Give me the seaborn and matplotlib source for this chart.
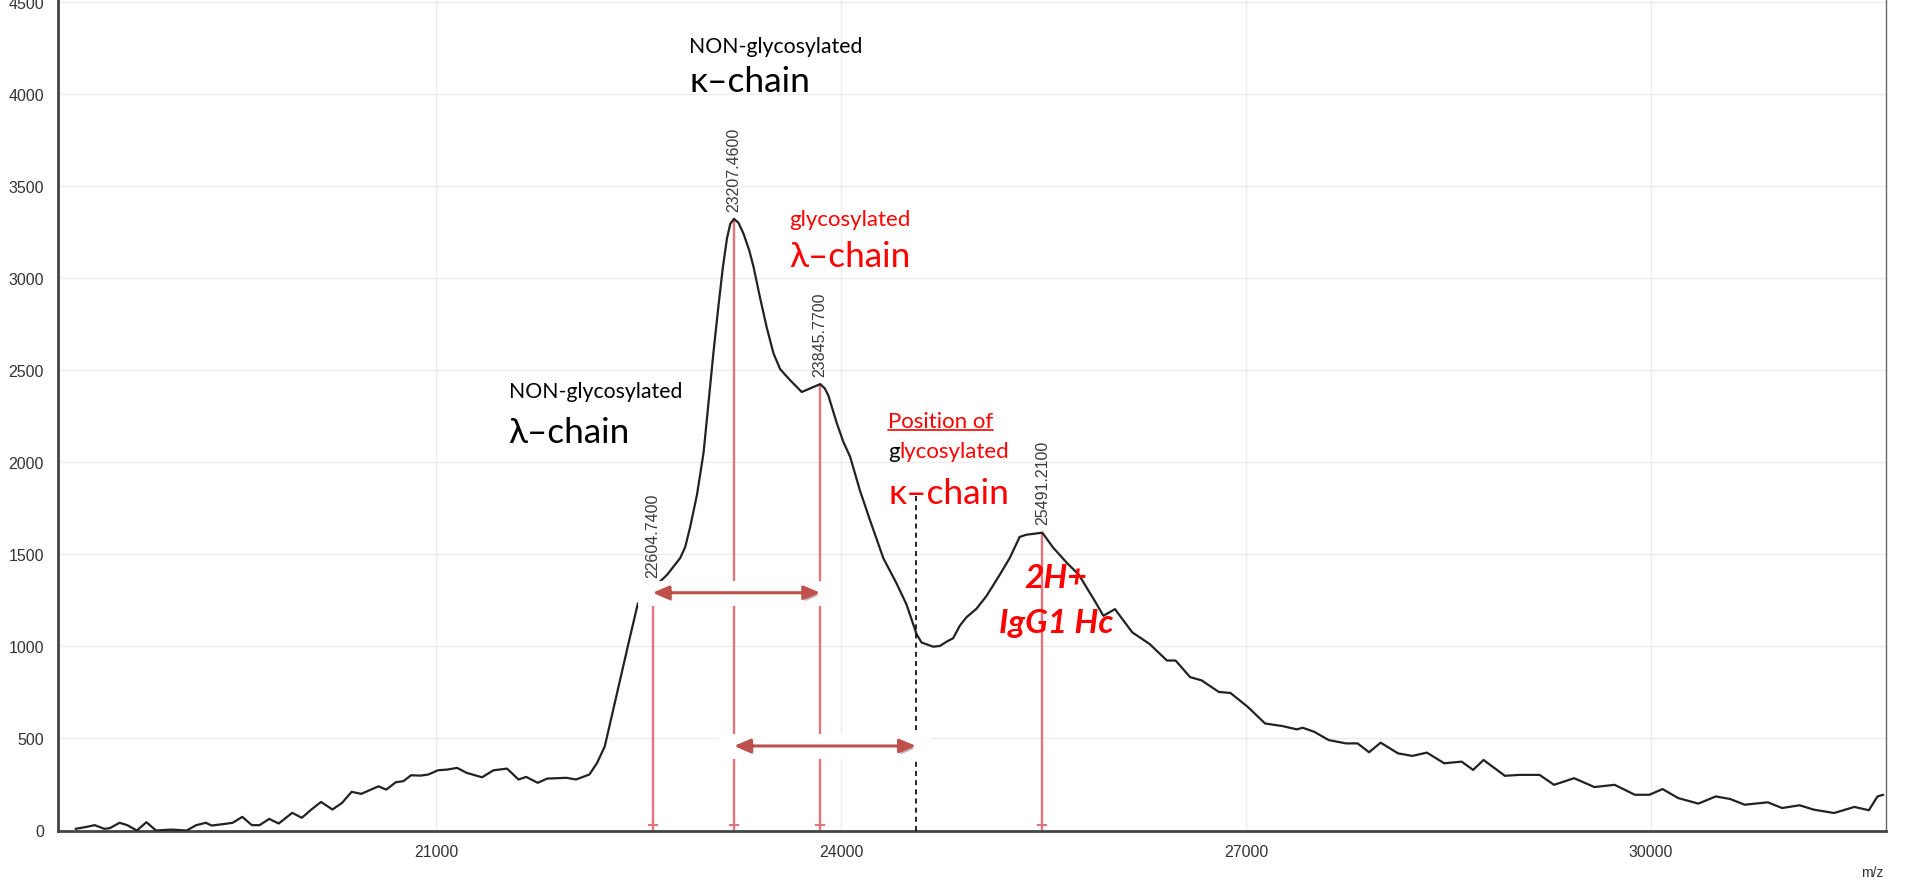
import numpy as np
import pandas as pd
import seaborn as sns
import matplotlib.pyplot as plt
import matplotlib.patheffects as pe
from matplotlib.ticker import MultipleLocator
from matplotlib.patches import Rectangle, FancyArrowPatch
from matplotlib.lines import Line2D

# spectrum (m/z, intensity)
mz = [18330, 18400, 18472, 18543, 18585, 18656, 18713, 18784, 18855, 18926,
      19040, 19153, 19224, 19295, 19338, 19438, 19494, 19565, 19636, 19693,
      19764, 19835, 19935, 20006, 20077, 20148, 20233, 20304, 20375, 20446,
      20517, 20574, 20631, 20702, 20759, 20815, 20886, 20943, 21014, 21085,
      21156, 21227, 21341, 21426, 21526, 21611, 21668, 21753, 21824, 21966,
      22037, 22136, 22193, 22250, 22307, 22364, 22430, 22495, 22560, 22635,
      22711, 22809, 22846, 22883, 22933, 22982, 23019, 23056, 23093, 23125,
      23155, 23180, 23207, 23240, 23278, 23320, 23352, 23401, 23450, 23500,
      23549, 23623, 23709, 23783, 23846, 23880, 23906, 23968, 24017, 24067,
      24140, 24214, 24313, 24411, 24485, 24559, 24596, 24682, 24732, 24781,
      24830, 24880, 24929, 25003, 25077, 25175, 25249, 25323, 25372, 25491,
      25570, 25669, 25760, 25879, 25943, 26029, 26093, 26157, 26285, 26414,
      26478, 26585, 26671, 26799, 26884, 27013, 27141, 27270, 27377, 27419,
      27505, 27612, 27740, 27826, 27911, 27997, 28125, 28232, 28339, 28468,
      28596, 28682, 28759, 28917, 29024, 29174, 29281, 29430, 29580, 29730,
      29880, 29987, 30085, 30201, 30350, 30479, 30586, 30693, 30864, 30971,
      31100, 31206, 31356, 31506, 31613, 31677, 31720]
intensity = [9, 18, 29, 9, 13, 42, 29, 0, 45, 0,
             5, 0, 29, 42, 27, 36, 42, 74, 29, 29,
             63, 38, 96, 69, 114, 155, 114, 150, 210, 199,
             222, 240, 222, 262, 268, 300, 298, 304, 327, 331,
             340, 313, 289, 327, 336, 277, 291, 259, 282, 286,
             277, 304, 367, 457, 638, 820, 1030, 1232, 1290, 1335,
             1388, 1480, 1540, 1650, 1823, 2053, 2328, 2603, 2855, 3060,
             3215, 3295, 3321, 3300, 3240, 3150, 3060, 2890, 2730, 2590,
             2505, 2445, 2381, 2404, 2424, 2400, 2362, 2213, 2110, 2030,
             1846, 1686, 1479, 1342, 1227, 1067, 1021, 998, 1002, 1025,
             1044, 1112, 1158, 1204, 1273, 1388, 1479, 1594, 1606, 1617,
             1537, 1456, 1390, 1247, 1166, 1202, 1139, 1076, 1013, 923,
             923, 833, 815, 752, 747, 671, 581, 567, 549, 558,
             536, 491, 473, 473, 425, 477, 419, 405, 423, 365,
             374, 329, 383, 297, 302, 302, 248, 284, 236, 248,
             194, 194, 225, 176, 146, 185, 171, 140, 153, 122,
             137, 113, 95, 128, 110, 185, 194]

peak_mz = [22604.74, 23207.46, 23845.77, 25491.21]
peak_int = [1330, 3321, 2424, 1617]

kappa_glyco_mz = 24555
kappa_glyco_top = 1823

# double arrows: start, end, level
arrow_start = [22604.74, 23207.46]
arrow_end = [23845.77, 24555]
arrow_level = [1291, 459]

spectrum = pd.DataFrame({'mz': mz, 'intensity': intensity})

sns.set_style('white')
plt.rcParams['font.family'] = ['Liberation Sans', 'DejaVu Sans']
label_font = ['Lato', 'DejaVu Sans']

fig = plt.figure(figsize=(19.06, 8.87), dpi=100)
ax = fig.add_axes([58 / 1906, 55.5 / 887, 1828 / 1906, 831.5 / 887])

sns.lineplot(data=spectrum, x='mz', y='intensity', color='#222222', lw=1.6,
             ax=ax, zorder=3)

# peak stems with small caps at the base
ax.vlines(peak_mz, 0, peak_int, color='#e5737e', lw=1.7, zorder=2)
ax.scatter(peak_mz, [28] * len(peak_mz), marker='_', s=60, color='#e5737e',
           linewidths=1.5, zorder=2)
for m, h in zip(peak_mz, peak_int):
    ax.annotate(f'{m:.4f}', xy=(m, h), xytext=(0, 6), textcoords='offset points',
                rotation=90, ha='center', va='bottom', fontsize=11.5,
                color='#3a3a3a', zorder=7)

# dashed marker for glycosylated kappa position
ax.vlines(kappa_glyco_mz, 0, kappa_glyco_top, color='black', lw=1.2,
          linestyles=(0, (3, 2.5)), zorder=3)

# arrows with white backing boxes
for x0, x1, y in zip(arrow_start, arrow_end, arrow_level):
    ax.add_patch(Rectangle((x0 - 110, y - 70), (x1 - x0) + 220, 135,
                           facecolor='white', edgecolor='none', zorder=4))
    arr = FancyArrowPatch((x0, y), (x1, y),
                          arrowstyle='<|-|>,head_length=0.75,head_width=0.32',
                          mutation_scale=13, lw=2.2, color='#c0504d',
                          shrinkA=0, shrinkB=0, zorder=6,
                          path_effects=[pe.withSimplePatchShadow(offset=(1.5, -2),
                                                                 alpha=0.3)])
    ax.add_patch(arr)


def note(x, y, s, color, size, **kw):
    return ax.text(x, y, s, color=color, fontsize=size, family=label_font,
                   va='baseline', zorder=7, **kw)


note(22874, 4227, 'NON-glycosylated', 'black', 15.3)
note(22874, 4015, 'κ–chain', 'black', 25.5)
note(23615, 3288, 'glycosylated', 'red', 16)
note(23615, 3066, 'λ–chain', 'red', 25.3)
note(21538, 2354, 'NON-glycosylated', 'black', 15.3)
note(21538, 2109, 'λ–chain', 'black', 25.3)
pos_txt = note(24348, 2191, 'Position of', 'red', 16)
g_txt = note(24348, 2028, 'g', 'black', 16)
ax.annotate('lycosylated', xy=(1, 0), xycoords=g_txt, ha='left', va='bottom',
            color='red', fontsize=16, family=label_font, zorder=7)
note(24348, 1778, 'κ–chain', 'red', 25.5)
note(25590, 1322, '2H+', 'red', 24, ha='center', fontweight='bold', style='italic')
note(25593, 1078, 'IgG1 Hc', 'red', 24, ha='center', fontweight='bold', style='italic')

ax.annotate('m/z', xy=(1, 0), xycoords='axes fraction', xytext=(-10, -30),
            textcoords='offset points', ha='center', va='center', fontsize=10,
            color='#333333')

ax.set_xlim(18200, 31740)
ax.set_ylim(0, 4515)
ax.xaxis.set_major_locator(MultipleLocator(3000))
ax.xaxis.set_minor_locator(MultipleLocator(1000))
ax.yaxis.set_major_locator(MultipleLocator(500))
ax.yaxis.set_minor_locator(MultipleLocator(100))
ax.set_xlabel('')
ax.set_ylabel('')
ax.grid(which='major', color='#ececec', lw=1)
ax.set_axisbelow(True)
ax.tick_params(which='major', direction='out', length=7, width=1.2, color='#444444',
               labelsize=11.5, labelcolor='#333333', pad=3)
ax.tick_params(which='minor', direction='out', length=4, width=1.0, color='#444444')
for side in ['left', 'bottom']:
    ax.spines[side].set_linewidth(2)
    ax.spines[side].set_color('#444444')
ax.spines['right'].set_linewidth(1)
ax.spines['right'].set_color('#666666')
ax.spines['top'].set_visible(False)

# underline "Position of"
fig.canvas.draw()
bb = pos_txt.get_window_extent(fig.canvas.get_renderer())
fig.add_artist(Line2D([bb.x0, bb.x1], [bb.y0 + 1, bb.y0 + 1], color='red', lw=1.2,
                      transform=None))

fig.savefig('out.png', dpi=100)
